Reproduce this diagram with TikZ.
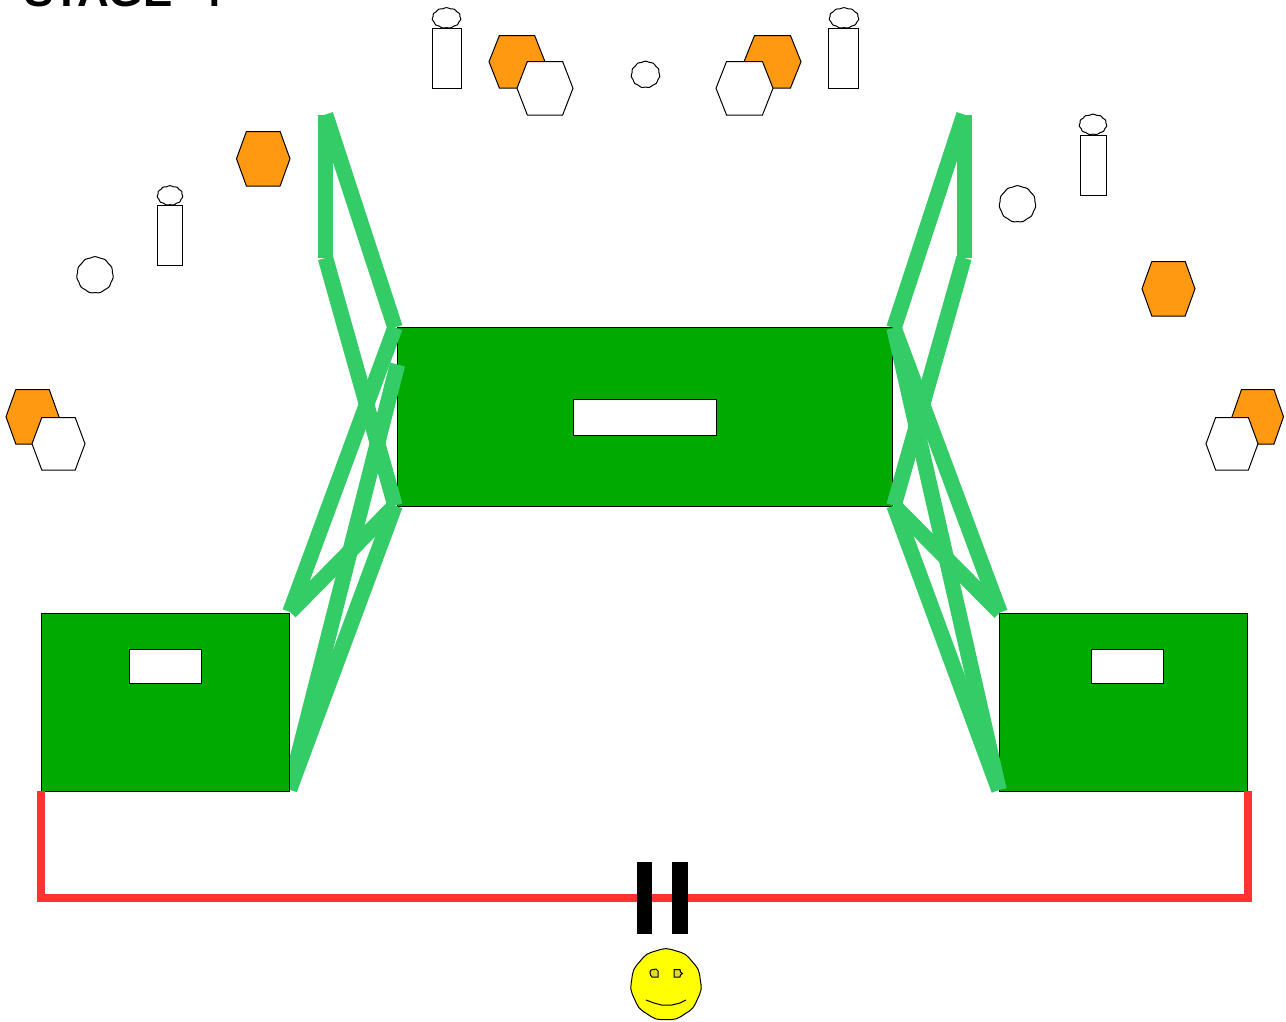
\documentclass[tikz,border=0pt]{standalone}
\usepackage{fontspec}
\setmainfont{Liberation Sans}
\definecolor{boxgreen}{HTML}{00AA00}
\definecolor{linkgreen}{HTML}{33CC66}
\definecolor{wirered}{HTML}{FF3333}
\definecolor{hexorange}{HTML}{FF9911}
\definecolor{faceyellow}{HTML}{FFFF00}
\definecolor{eyeyellow}{HTML}{DDDD22}
\tikzset{
  outline/.style={draw=black,line width=1pt},
  stagebox/.style={outline,fill=boxgreen,inner sep=0pt},
  slot/.style={outline,fill=white,inner sep=0pt},
  link/.style={draw=linkgreen,line width=15.5pt,line cap=butt},
  uprightlink/.style={draw=linkgreen,line width=15pt,line cap=butt},
  wire/.style={draw=wirered,line width=7.5pt},
  plate/.style={fill=black,inner sep=0pt,minimum width=15.5pt,minimum height=72pt},
  bodybox/.style={outline,fill=white,inner sep=0pt},
}
% left right top bottom fill name
\newcommand{\hexa}[6]{%
  \pgfmathsetmacro{\hexin}{0.185*(#2-#1)}
  \draw[outline,fill=#5] (#1,{(#3+#4)/2}) -- ({#1+\hexin},#3) -- ({#2-\hexin},#3) -- (#2,{(#3+#4)/2}) -- ({#2-\hexin},#4) -- ({#1+\hexin},#4) -- cycle;
  \coordinate (#6) at ({(#1+#2)/2},{(#3+#4)/2});
}
% cx cy rx ry fill name : slightly rough outline
\newcommand{\blob}[6]{%
  \draw[outline,fill=#5] plot[samples=45,domain=0:360] ({#1+(#3+0.4*sin(11*\x))*cos(\x)},{#2+(#4+0.4*sin(11*\x))*sin(\x)}) -- cycle;
  \coordinate (#6) at (#1,#2);
}
\begin{document}
\begin{tikzpicture}[x=1pt,y=-1pt]
\useasboundingbox (0,0) rectangle (1286,1021);
\fill[white] (0,0) rectangle (1286,1021);
\clip (0,0) rectangle (1286,1021);

\node[anchor=base west,inner sep=0pt,font=\bfseries\fontsize{44}{44}\selectfont] (title) at (24,6) {STAGE\hspace{25pt}4};

% boxes below the links
\node[stagebox,minimum width=495pt,minimum height=179pt] (mid) at (644.5,416.5) {};
\node[stagebox,minimum width=248pt,minimum height=178pt] (rbox) at (1123,702) {};
\node[slot,minimum width=143pt,minimum height=36pt] (midslot) at (644.5,417) {};
\node[slot,minimum width=72pt,minimum height=34pt] (rslot) at (1127,666) {};

% link joints, left
\coordinate (la) at (325.5,114.5);
\coordinate (lb) at (325.5,258);
\coordinate (lc) at (395,327.5);
\coordinate (ld) at (395,505.5);
\coordinate (le) at (397.5,364.5);
\coordinate (lf) at (290,612);
\coordinate (lg) at (289.5,789.5);
% link joints, right
\coordinate (ra) at (964,114.5);
\coordinate (rb) at (964,258);
\coordinate (rc) at (894,328);
\coordinate (rd) at (894,505.5);
\coordinate (rf) at (1000,612.5);
\coordinate (rg) at (999,790);

\draw[uprightlink] (la) -- (lb);
\draw[link] (la) -- (lc);
\draw[link] (lb) -- (ld);
\draw[link] (lc) -- (lf);
\draw[link] (le) -- (lg);
\draw[link] (ld) -- (lf);
\draw[link] (ld) -- (lg);

\draw[uprightlink] (ra) -- (rb);
\draw[link] (ra) -- (rc);
\draw[link] (rb) -- (rd);
\draw[link] (rc) -- (rf);
\draw[link] (rc) -- (rg);
\draw[link] (rd) -- (rf);
\draw[link] (rd) -- (rg);

% left box lies over the links
\node[stagebox,minimum width=248pt,minimum height=178pt] (lbox) at (165,702) {};
\node[slot,minimum width=72pt,minimum height=34pt] (lslot) at (165,666) {};

% wire and capacitor
\coordinate (wl) at (41,791);
\coordinate (wr) at (1248,791);
\coordinate (wbl) at (41,898);
\coordinate (wbr) at (1248,898);
\draw[wire] (wl) -- (wbl) -- (wbr) -- (wr);
\node[plate] (plateA) at (644.5,898) {};
\node[plate,minimum width=16pt] (plateB) at (680,898) {};

% face
\blob{666}{984.5}{35}{35.5}{faceyellow}{face}
\draw[outline,fill=eyeyellow] (651,970) -- (656,969) -- (658,971) -- (658,977) -- (652,977) -- (650.5,975) -- (650,972) -- cycle;
\draw[outline,fill=eyeyellow] (674,969.5) -- (680,969.5) -- (680.5,972) -- (682.5,973.5) -- (680.5,975) -- (680,977) -- (674,977) -- cycle;
\coordinate (smileL) at (646,1000);
\coordinate (smileR) at (686,1000);
\draw[outline] (smileL) -- (654,1003) -- (661.5,1005) -- (672,1005) -- (680,1003) -- (smileR);

% people
\node[bodybox,minimum width=29pt,minimum height=60pt] (p1) at (446.5,58) {};
\blob{446.5}{18}{14}{10}{white}{h1}
\node[bodybox,minimum width=30pt,minimum height=60pt] (p2) at (843.5,58) {};
\blob{844}{18}{14.5}{10}{white}{h2}
\node[bodybox,minimum width=26pt,minimum height=60pt] (p3) at (1093,165) {};
\blob{1093}{124.5}{13.5}{10}{white}{h3}
\node[bodybox,minimum width=25pt,minimum height=60pt] (p4) at (170,235) {};
\blob{170}{195.5}{12.5}{9.5}{white}{h4}

% loose circles
\blob{95}{275}{18}{18}{white}{c1}
\blob{645.5}{74.5}{14}{13}{white}{c2}
\blob{1017.5}{204}{18}{18}{white}{c3}

% hexagons
\hexa{236.5}{290}{131.5}{186}{hexorange}{hA}
\hexa{489}{545}{35.5}{88}{hexorange}{hB}
\hexa{517}{573}{61.5}{115}{white}{hC}
\hexa{744}{801}{35.5}{88}{hexorange}{hD}
\hexa{716}{773}{61.5}{115}{white}{hE}
\hexa{1142}{1195}{261.5}{316}{hexorange}{hF}
\hexa{6}{59}{389.5}{444}{hexorange}{hG}
\hexa{32}{85}{417.5}{470}{white}{hH}
\hexa{1232}{1283.5}{389.5}{444}{hexorange}{hI}
\hexa{1206}{1258}{417.5}{470}{white}{hJ}
\end{tikzpicture}
\end{document}
